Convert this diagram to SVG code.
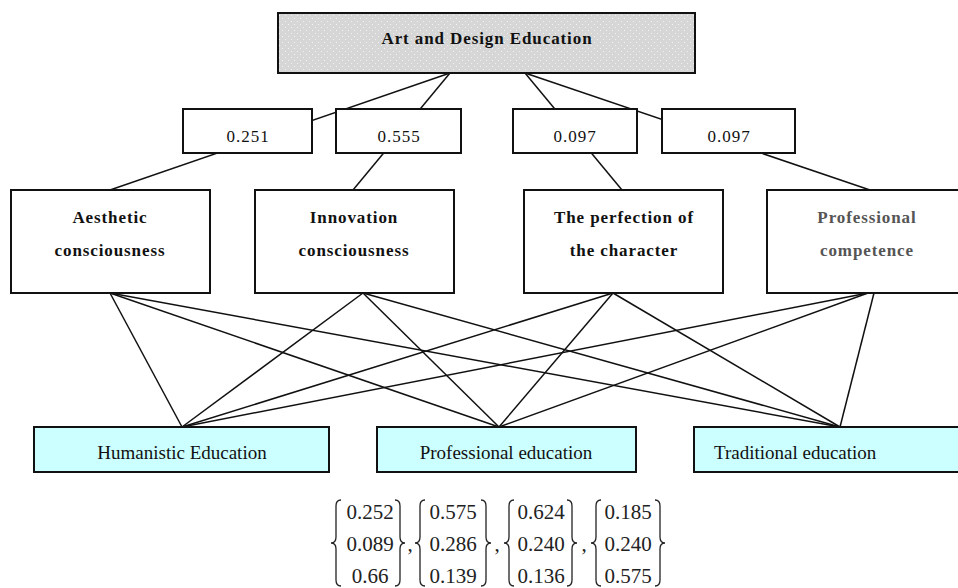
<svg xmlns="http://www.w3.org/2000/svg" width="958" height="588" viewBox="0 0 958 588">
<defs>
<pattern id="dots" width="6" height="6" patternUnits="userSpaceOnUse">
<rect width="6" height="6" fill="#d6d6d6"/>
<rect x="0" y="0" width="1" height="1" fill="#f4f4f4"/>
<rect x="3" y="3" width="1" height="1" fill="#f0f0f0"/>
</pattern>
<style>
.box{fill:#fff;stroke:#111;stroke-width:2}
.top{fill:url(#dots);stroke:#111;stroke-width:2}
.edu{fill:#ccffff;stroke:#111;stroke-width:2}
.ln{stroke:#111;stroke-width:1.5;fill:none}
.br{stroke:#222;stroke-width:1.3;fill:none}
.b{font-family:"Liberation Serif","Times New Roman",serif;font-weight:bold;font-size:17px;letter-spacing:0.9px;text-anchor:middle;fill:#111}
.w{font-family:"Liberation Serif","Times New Roman",serif;font-size:17px;letter-spacing:1px;text-anchor:middle;fill:#111}
.e{font-family:"Liberation Serif","Times New Roman",serif;font-size:19px;fill:#111}
.m{font-family:"Liberation Serif","Times New Roman",serif;font-size:21px;text-anchor:middle;fill:#222}
</style>
</defs>
<rect width="958" height="588" fill="#fff"/>
<g id="connectors">
<line class="ln" x1="450" y1="73" x2="110" y2="190"/>
<line class="ln" x1="450" y1="73" x2="353" y2="190"/>
<line class="ln" x1="525" y1="73" x2="622" y2="190"/>
<line class="ln" x1="525" y1="73" x2="870" y2="190"/>
<line class="ln" x1="110" y1="293" x2="182" y2="427"/>
<line class="ln" x1="110" y1="293" x2="499" y2="427"/>
<line class="ln" x1="110" y1="293" x2="840" y2="427"/>
<line class="ln" x1="363" y1="293" x2="182" y2="427"/>
<line class="ln" x1="363" y1="293" x2="499" y2="427"/>
<line class="ln" x1="363" y1="293" x2="840" y2="427"/>
<line class="ln" x1="613" y1="293" x2="182" y2="427"/>
<line class="ln" x1="613" y1="293" x2="499" y2="427"/>
<line class="ln" x1="613" y1="293" x2="840" y2="427"/>
<line class="ln" x1="868" y1="293" x2="182" y2="427"/>
<line class="ln" x1="868" y1="293" x2="499" y2="427"/>
<line class="ln" x1="874" y1="293" x2="840" y2="427"/>
</g>
<g id="root">
<rect class="top" x="278" y="13" width="417" height="60"/>
<text class="b" x="487" y="44">Art and Design Education</text>
</g>
<g id="w1"><rect class="box" x="183" y="109" width="129" height="44"/><text class="w" x="248" y="142">0.251</text></g>
<g id="w2"><rect class="box" x="336" y="109" width="125" height="44"/><text class="w" x="399" y="142">0.555</text></g>
<g id="w3"><rect class="box" x="513" y="109" width="124" height="44"/><text class="w" x="575" y="142">0.097</text></g>
<g id="w4"><rect class="box" x="662" y="109" width="133" height="44"/><text class="w" x="729" y="142">0.097</text></g>
<g id="aesthetic">
<rect class="box" x="11" y="190" width="199" height="103"/>
<text class="b" x="110" y="223">Aesthetic</text>
<text class="b" x="110" y="256">consciousness</text>
</g>
<g id="innovation">
<rect class="box" x="255" y="190" width="199" height="103"/>
<text class="b" x="354" y="223">Innovation</text>
<text class="b" x="354" y="256">consciousness</text>
</g>
<g id="perfection">
<rect class="box" x="524" y="190" width="199" height="103"/>
<text class="b" x="624" y="223">The perfection of</text>
<text class="b" x="624" y="256">the character</text>
</g>
<g id="competence">
<rect class="box" x="767" y="190" width="200" height="103"/>
<text class="b" x="867" y="223" style="fill:#555">Professional</text>
<text class="b" x="867" y="256" style="fill:#555">competence</text>
</g>
<g id="humanistic">
<rect class="edu" x="34" y="427" width="295" height="45"/>
<text class="e" x="182" y="459" text-anchor="middle">Humanistic Education</text>
</g>
<g id="professional">
<rect class="edu" x="377" y="427" width="259" height="45"/>
<text class="e" x="506" y="459" text-anchor="middle">Professional education</text>
</g>
<g id="traditional">
<rect class="edu" x="694" y="427" width="270" height="45"/>
<text class="e" x="714" y="459">Traditional education</text>
</g>
<g id="vectors">
<path class="br" d="M341,500 Q336,500 336,506 L336,537 Q336,543 331,543 Q336,543 336,549 L336,580 Q336,586 341,586"/>
<path class="br" d="M395,500 Q400,500 400,506 L400,537 Q400,543 405,543 Q400,543 400,549 L400,580 Q400,586 395,586"/>
<text class="m" x="370" y="519">0.252</text>
<text class="m" x="370" y="551">0.089</text>
<text class="m" x="370" y="583">0.66</text>
<text class="m" x="410" y="551">,</text>
<path class="br" d="M425,500 Q420,500 420,506 L420,537 Q420,543 415,543 Q420,543 420,549 L420,580 Q420,586 425,586"/>
<path class="br" d="M481,500 Q486,500 486,506 L486,537 Q486,543 491,543 Q486,543 486,549 L486,580 Q486,586 481,586"/>
<text class="m" x="453" y="519">0.575</text>
<text class="m" x="453" y="551">0.286</text>
<text class="m" x="453" y="583">0.139</text>
<text class="m" x="497" y="551">,</text>
<path class="br" d="M514,500 Q509,500 509,506 L509,537 Q509,543 504,543 Q509,543 509,549 L509,580 Q509,586 514,586"/>
<path class="br" d="M567,500 Q572,500 572,506 L572,537 Q572,543 577,543 Q572,543 572,549 L572,580 Q572,586 567,586"/>
<text class="m" x="541" y="519">0.624</text>
<text class="m" x="541" y="551">0.240</text>
<text class="m" x="541" y="583">0.136</text>
<text class="m" x="584" y="551">,</text>
<path class="br" d="M601,500 Q596,500 596,506 L596,537 Q596,543 591,543 Q596,543 596,549 L596,580 Q596,586 601,586"/>
<path class="br" d="M655,500 Q660,500 660,506 L660,537 Q660,543 665,543 Q660,543 660,549 L660,580 Q660,586 655,586"/>
<text class="m" x="628" y="519">0.185</text>
<text class="m" x="628" y="551">0.240</text>
<text class="m" x="628" y="583">0.575</text>
</g>
</svg>
